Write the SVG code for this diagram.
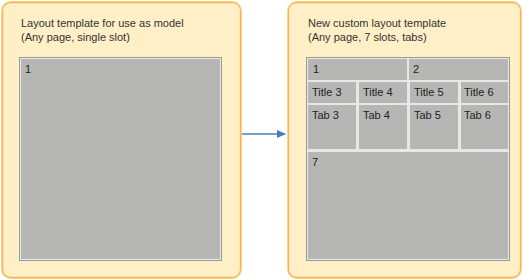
<svg xmlns="http://www.w3.org/2000/svg" width="530" height="280" viewBox="0 0 530 280">
<defs>
<style>
.panel{fill:#ffefc7;stroke:#f7b550;stroke-width:1.3}
.halo{fill:none;stroke:#fcd89a;stroke-width:1}
.frame{fill:#e8e8e8;stroke:#999;stroke-width:1}
.cell{fill:#b6b6b5}
.t{font-family:"Liberation Sans",Arial,sans-serif;font-size:11px;fill:#333}
.c{font-family:"Liberation Sans",Arial,sans-serif;font-size:11px;fill:#222}
.conn{stroke:#4a7ebb;stroke-width:1.5;fill:none}
</style>
<marker id="ah" markerWidth="10" markerHeight="10" refX="8" refY="5" orient="auto" markerUnits="userSpaceOnUse">
<path d="M0,1 L9,5 L0,9 Z" fill="#4a7ebb"/>
</marker>
</defs>
<g id="left">
<rect class="halo" x="1.5" y="1.5" width="240" height="277" rx="9"/>
<rect class="panel" x="2.5" y="2.5" width="238" height="275" rx="8"/>
<text class="t" x="21" y="27">Layout template for use as model</text>
<text class="t" x="21" y="41">(Any page, single slot)</text>
<rect class="frame" x="19.5" y="57.5" width="202" height="203"/>
<rect class="cell" x="21" y="59" width="199" height="200"/>
<text class="c" x="25" y="73">1</text>
</g>
<g id="right">
<rect class="halo" x="287.5" y="1.5" width="234" height="277" rx="9"/>
<rect class="panel" x="288.5" y="2.5" width="232" height="275" rx="8"/>
<text class="t" x="308" y="27">New custom layout template</text>
<text class="t" x="308" y="41">(Any page, 7 slots, tabs)</text>
<rect class="frame" x="306.5" y="57.5" width="203" height="203"/>
<rect class="cell" x="308" y="59" width="99" height="21"/>
<rect class="cell" x="409" y="59" width="99" height="21"/>
<rect class="cell" x="308" y="82" width="48" height="21"/>
<rect class="cell" x="359" y="82" width="48" height="21"/>
<rect class="cell" x="410" y="82" width="48" height="21"/>
<rect class="cell" x="461" y="82" width="47" height="21"/>
<rect class="cell" x="308" y="105" width="48" height="44"/>
<rect class="cell" x="359" y="105" width="48" height="44"/>
<rect class="cell" x="410" y="105" width="48" height="44"/>
<rect class="cell" x="461" y="105" width="47" height="44"/>
<rect class="cell" x="308" y="152" width="200" height="107"/>
<text class="c" x="313" y="73">1</text>
<text class="c" x="413" y="73">2</text>
<text class="c" x="312" y="96">Title 3</text>
<text class="c" x="363" y="96">Title 4</text>
<text class="c" x="414" y="96">Title 5</text>
<text class="c" x="464" y="96">Title 6</text>
<text class="c" x="312" y="119">Tab 3</text>
<text class="c" x="363" y="119">Tab 4</text>
<text class="c" x="414" y="119">Tab 5</text>
<text class="c" x="464" y="119">Tab 6</text>
<text class="c" x="312" y="166">7</text>
</g>
<g id="connectors">
<line class="conn" x1="242" y1="134" x2="285" y2="134" marker-end="url(#ah)"/>
</g>
</svg>
